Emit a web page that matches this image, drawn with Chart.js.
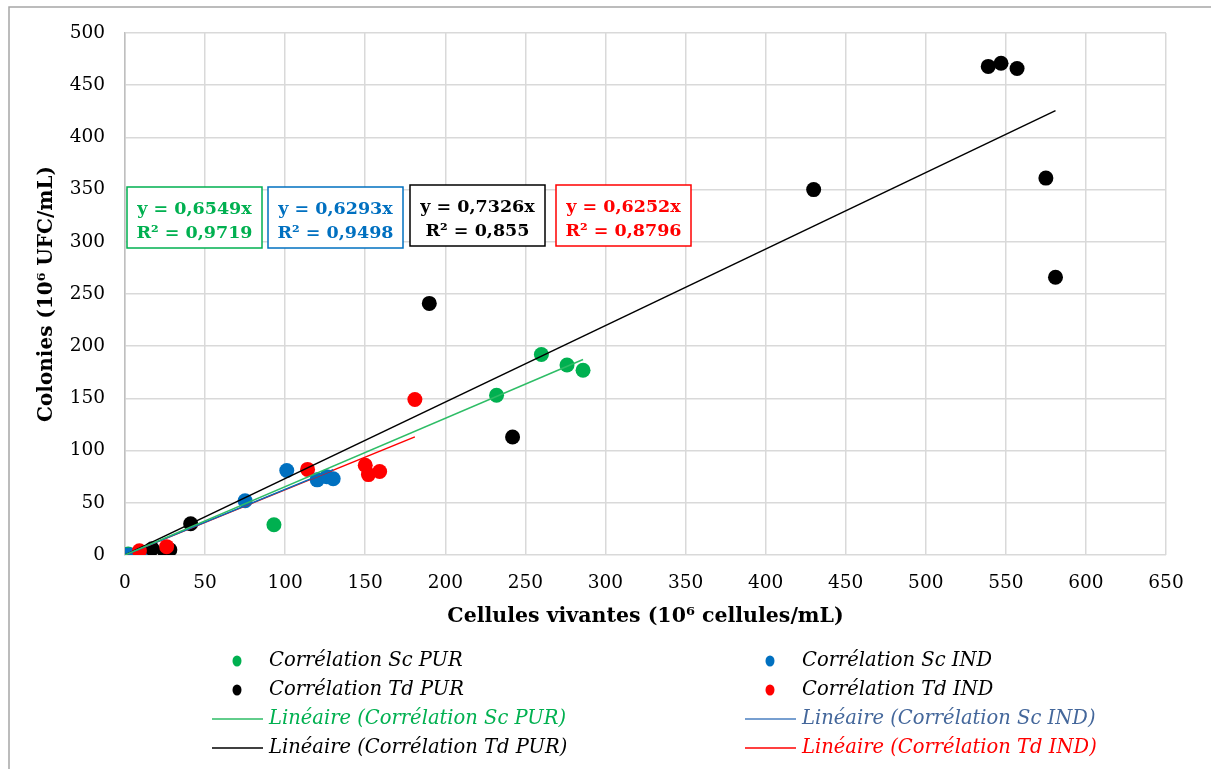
<!DOCTYPE html>
<html>
<head>
<meta charset="utf-8">
<script src="https://cdn.jsdelivr.net/npm/chart.js@4.4.1/dist/chart.umd.min.js"></script>
<style>
  html, body { margin: 0; padding: 0; background: #fff; }
  #wrap { width: 1211px; height: 769px; position: relative; }
</style>
</head>
<body>
<div id="wrap"><canvas id="chart" width="1211" height="769"></canvas></div>
<script>
// Corrélation Sc PUR
const scPurX = [2, 93, 232, 260, 276, 286];
const scPurY = [1, 29, 153, 192, 182, 177];
// Corrélation Sc IND
const scIndX = [0, 3, 6, 11, 75, 101, 120, 126, 130];
const scIndY = [0, 0, 0, 1, 52, 81, 72, 75, 73];
// Corrélation Td PUR
const tdPurX = [17, 25, 28, 41, 190, 242, 430, 539, 547, 557, 575, 581];
const tdPurY = [6, 3, 5, 30, 241, 113, 350, 468, 471, 466, 361, 266];
// Corrélation Td IND
const tdIndX = [9, 26, 114, 150, 152, 159, 181];
const tdIndY = [4, 8, 82, 86, 77, 80, 149];

// trend slopes (linear, intercept 0)
const slopes = { scPur: 0.6549, scInd: 0.6293, tdPur: 0.7326, tdInd: 0.6252 };
const r2 = { scPur: '0,9719', scInd: '0,9498', tdPur: '0,855', tdInd: '0,8796' };

const xTicks = [0, 50, 100, 150, 200, 250, 300, 350, 400, 450, 500, 550, 600, 650];
const yTicks = [0, 50, 100, 150, 200, 250, 300, 350, 400, 450, 500];

const GREEN = '#00b050', BLUE = '#0070c0', BLACK = '#000000', RED = '#ff0000';
const SERIF = '"DejaVu Serif", "Liberation Serif", serif';

function pts(xs, ys) {
    return xs.map((x, i) => ({ x: x, y: ys[i] }));
}
function trend(xs, slope) {
    const lo = 0, hi = Math.max(...xs);
    return [{ x: lo, y: lo * slope }, { x: hi, y: hi * slope }];
}
function fmt(n) {
    return String(n).replace('.', ',');
}

function scatterSet(label, data, color, order) {
    return {
        type: 'scatter', label: label, data: data, order: order,
        backgroundColor: color, borderColor: color,
        pointRadius: 7.5, pointHoverRadius: 7.5, borderWidth: 0
    };
}
function lineSet(label, data, color) {
    return {
        type: 'line', label: label, data: data, order: 0,
        borderColor: color, backgroundColor: color, borderWidth: 1.5,
        pointRadius: 0, fill: false, tension: 0
    };
}

// equation boxes (drawn on top of the grid)
const boxes = [
    { lines: ['y = ' + fmt(slopes.scPur) + 'x', 'R² = ' + r2.scPur], color: GREEN, rect: [127, 187, 135, 61] },
    { lines: ['y = ' + fmt(slopes.scInd) + 'x', 'R² = ' + r2.scInd], color: BLUE, rect: [268, 187, 135, 61] },
    { lines: ['y = ' + fmt(slopes.tdPur) + 'x', 'R² = ' + r2.tdPur], color: BLACK, rect: [410, 185, 135, 61] },
    { lines: ['y = ' + fmt(slopes.tdInd) + 'x', 'R² = ' + r2.tdInd], color: RED, rect: [556, 185, 135, 61] }
];

const legendItems = [
    { text: 'Corrélation Sc PUR', kind: 'dot', color: GREEN, textColor: BLACK, col: 0, row: 0 },
    { text: 'Corrélation Sc IND', kind: 'dot', color: BLUE, textColor: BLACK, col: 1, row: 0 },
    { text: 'Corrélation Td PUR', kind: 'dot', color: BLACK, textColor: BLACK, col: 0, row: 1 },
    { text: 'Corrélation Td IND', kind: 'dot', color: RED, textColor: BLACK, col: 1, row: 1 },
    { text: 'Linéaire (Corrélation Sc PUR)', kind: 'line', color: '#2ebd66', textColor: GREEN, col: 0, row: 2 },
    { text: 'Linéaire (Corrélation Sc IND)', kind: 'line', color: '#4a7fc0', textColor: '#44679b', col: 1, row: 2 },
    { text: 'Linéaire (Corrélation Td PUR)', kind: 'line', color: BLACK, textColor: BLACK, col: 0, row: 3 },
    { text: 'Linéaire (Corrélation Td IND)', kind: 'line', color: RED, textColor: RED, col: 1, row: 3 }
];

const decorPlugin = {
    id: 'decor',
    afterDatasetsDraw(chart) {
        const ctx = chart.ctx;
        ctx.save();
        // equation boxes
        boxes.forEach(b => {
            const [x, y, w, h] = b.rect;
            ctx.fillStyle = '#fff';
            ctx.fillRect(x, y, w, h);
            ctx.strokeStyle = b.color;
            ctx.lineWidth = 1.5;
            ctx.strokeRect(x, y, w, h);
            ctx.fillStyle = b.color;
            ctx.font = 'bold 17.5px ' + SERIF;
            ctx.textAlign = 'center';
            ctx.textBaseline = 'middle';
            ctx.fillText(b.lines[0], x + w / 2, y + 22);
            ctx.fillText(b.lines[1], x + w / 2, y + 46);
        });
        // legend
        const colX = [212, 745];
        const rowY = [661, 690, 719, 748];
        ctx.font = 'italic 19.5px ' + SERIF;
        ctx.textAlign = 'left';
        ctx.textBaseline = 'middle';
        legendItems.forEach(it => {
            const x0 = colX[it.col], y0 = rowY[it.row];
            if (it.kind === 'dot') {
                ctx.fillStyle = it.color;
                ctx.beginPath();
                ctx.ellipse(x0 + 25, y0, 4.5, 5.5, 0, 0, Math.PI * 2);
                ctx.fill();
            } else {
                ctx.strokeStyle = it.color;
                ctx.lineWidth = 1.5;
                ctx.beginPath();
                ctx.moveTo(x0, y0);
                ctx.lineTo(x0 + 51, y0);
                ctx.stroke();
            }
            ctx.fillStyle = it.textColor;
            ctx.fillText(it.text, x0 + 57, y0);
        });
        // outer frame
        ctx.strokeStyle = '#a6a6a6';
        ctx.lineWidth = 1.5;
        ctx.beginPath();
        ctx.moveTo(9, 769);
        ctx.lineTo(9, 7);
        ctx.lineTo(1211, 7);
        ctx.stroke();
        ctx.restore();
    }
};

new Chart(document.getElementById('chart'), {
    data: {
        datasets: [
            lineSet('Linéaire (Corrélation Sc PUR)', trend(scPurX, slopes.scPur), '#2ebd66'),
            lineSet('Linéaire (Corrélation Sc IND)', trend(scIndX, slopes.scInd), BLUE),
            lineSet('Linéaire (Corrélation Td PUR)', trend(tdPurX, slopes.tdPur), BLACK),
            lineSet('Linéaire (Corrélation Td IND)', trend(tdIndX, slopes.tdInd), RED),
            scatterSet('Corrélation Td IND', pts(tdIndX, tdIndY), RED, 1),
            scatterSet('Corrélation Td PUR', pts(tdPurX, tdPurY), BLACK, 2),
            scatterSet('Corrélation Sc IND', pts(scIndX, scIndY), BLUE, 3),
            scatterSet('Corrélation Sc PUR', pts(scPurX, scPurY), GREEN, 4)
        ]
    },
    options: {
        responsive: false,
        animation: false,
        layout: { padding: { left: 0, top: 33, right: 45, bottom: 140 } },
        plugins: {
            legend: { display: false },
            tooltip: { enabled: false }
        },
        scales: {
            x: {
                type: 'linear', min: 0, max: 650,
                afterBuildTicks: s => { s.ticks = xTicks.map(v => ({ value: v })); },
                afterFit: s => { s.height = 74; },
                grid: { color: '#d9d9d9', lineWidth: 1.5, drawTicks: false },
                border: { display: false },
                ticks: { color: '#000', padding: 17, font: { family: SERIF, size: 18.5 } },
                title: {
                    display: true, text: 'Cellules vivantes (10⁶ cellules/mL)', color: '#000',
                    padding: { top: 0, bottom: 0 },
                    font: { family: SERIF, size: 20.5, weight: 'bold' }
                }
            },
            y: {
                type: 'linear', min: 0, max: 500,
                afterBuildTicks: s => { s.ticks = yTicks.map(v => ({ value: v })); },
                afterFit: s => { s.width = 125; },
                grid: { color: '#d9d9d9', lineWidth: 1.5, drawTicks: false },
                border: { display: true, color: '#bfbfbf', width: 1.5 },
                ticks: { color: '#000', padding: 20, font: { family: SERIF, size: 18.5 } },
                title: {
                    display: true, text: 'Colonies (10⁶ UFC/mL)', color: '#000',
                    padding: { top: 35, bottom: 0 },
                    font: { family: SERIF, size: 20, weight: 'bold' }
                }
            }
        }
    },
    plugins: [decorPlugin]
});
</script>
</body>
</html>
